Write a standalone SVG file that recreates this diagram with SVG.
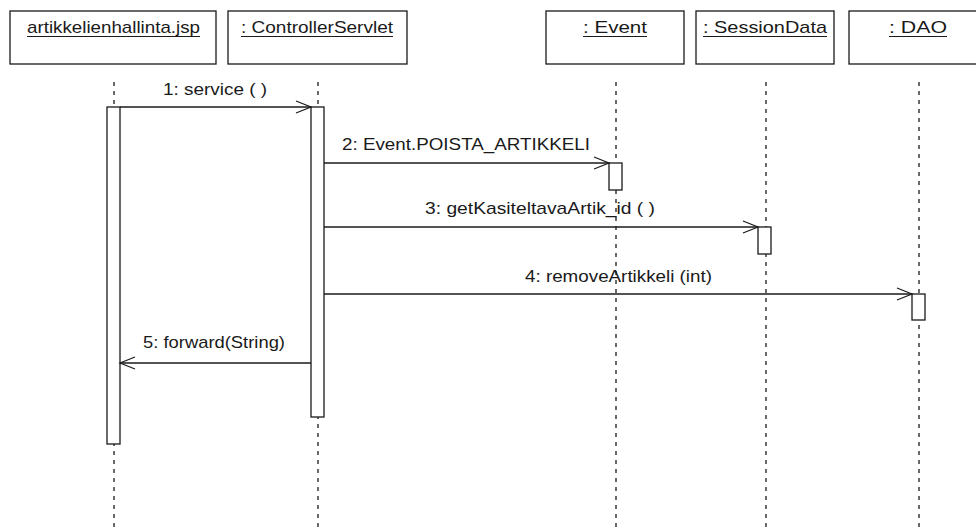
<svg xmlns="http://www.w3.org/2000/svg" width="976" height="532" viewBox="0 0 976 532">
  <style>
    .box { fill: #fff; stroke: #1a1a1a; stroke-width: 1.3; }
    .bar { fill: #fff; stroke: #1a1a1a; stroke-width: 1.3; }
    .life { stroke: #1a1a1a; stroke-width: 1.3; stroke-dasharray: 4 5; fill: none; }
    .msg { stroke: #1a1a1a; stroke-width: 1.3; fill: none; }
    .head { stroke: #1a1a1a; stroke-width: 1.2; fill: none; }
    .ul { stroke: #1a1a1a; stroke-width: 1; }
    text { font-family: "Liberation Sans", Arial, sans-serif; font-size: 17px; fill: #1a1a1a; }
  </style>

  <!-- lifelines -->
  <g id="lifelines">
    <line class="life" x1="114" y1="82" x2="114" y2="532"/>
    <line class="life" x1="318" y1="82" x2="318" y2="532"/>
    <line class="life" x1="616" y1="82" x2="616" y2="532"/>
    <line class="life" x1="766" y1="82" x2="766" y2="532"/>
    <line class="life" x1="919" y1="82" x2="919" y2="532"/>
  </g>

  <!-- object heads -->
  <g id="jsp">
    <rect class="box" x="10" y="11" width="206" height="53"/>
    <text x="27" y="33" textLength="173" lengthAdjust="spacingAndGlyphs">artikkelienhallinta.jsp</text>
    <line class="ul" x1="27" y1="36.5" x2="200" y2="36.5"/>
    <rect class="bar" x="107" y="107" width="13" height="337"/>
  </g>
  <g id="controller">
    <rect class="box" x="228" y="11" width="179" height="53"/>
    <text x="241" y="33" textLength="152" lengthAdjust="spacingAndGlyphs">: ControllerServlet</text>
    <line class="ul" x1="241" y1="36.5" x2="393" y2="36.5"/>
    <rect class="bar" x="311" y="107" width="13" height="310"/>
  </g>
  <g id="event">
    <rect class="box" x="546" y="11" width="138" height="53"/>
    <text x="583" y="33" textLength="64" lengthAdjust="spacingAndGlyphs">: Event</text>
    <line class="ul" x1="583" y1="36.5" x2="647" y2="36.5"/>
    <rect class="bar" x="609" y="163" width="13" height="27"/>
  </g>
  <g id="sessiondata">
    <rect class="box" x="696" y="11" width="138" height="53"/>
    <text x="703" y="33" textLength="124" lengthAdjust="spacingAndGlyphs">: SessionData</text>
    <line class="ul" x1="703" y1="36.5" x2="827" y2="36.5"/>
    <rect class="bar" x="758" y="227" width="13" height="27"/>
  </g>
  <g id="dao">
    <rect class="box" x="849" y="11" width="140" height="53"/>
    <text x="889" y="33" textLength="58" lengthAdjust="spacingAndGlyphs">: DAO</text>
    <line class="ul" x1="889" y1="36.5" x2="947" y2="36.5"/>
    <rect class="bar" x="912" y="294" width="13" height="26"/>
  </g>

  <!-- messages -->
  <g id="connectors">
    <line class="msg" x1="120" y1="107" x2="311" y2="107"/>
    <polyline class="head" points="296,101 311,107 296,113"/>
    <text x="163" y="95" textLength="104" lengthAdjust="spacingAndGlyphs">1: service ( )</text>

    <line class="msg" x1="324" y1="163" x2="609" y2="163"/>
    <polyline class="head" points="594,157 609,163 594,169"/>
    <text x="342" y="150" textLength="248" lengthAdjust="spacingAndGlyphs">2: Event.POISTA_ARTIKKELI</text>

    <line class="msg" x1="324" y1="227" x2="758" y2="227"/>
    <polyline class="head" points="743,221 758,227 743,233"/>
    <text x="425" y="214" textLength="230" lengthAdjust="spacingAndGlyphs">3: getKasiteltavaArtik_id ( )</text>

    <line class="msg" x1="324" y1="294" x2="912" y2="294"/>
    <polyline class="head" points="897,288 912,294 897,300"/>
    <text x="525" y="282" textLength="187" lengthAdjust="spacingAndGlyphs">4: removeArtikkeli (int)</text>

    <line class="msg" x1="311" y1="363" x2="120" y2="363"/>
    <polyline class="head" points="135,357 120,363 135,369"/>
    <text x="143" y="348" textLength="142" lengthAdjust="spacingAndGlyphs">5: forward(String)</text>
  </g>
</svg>
